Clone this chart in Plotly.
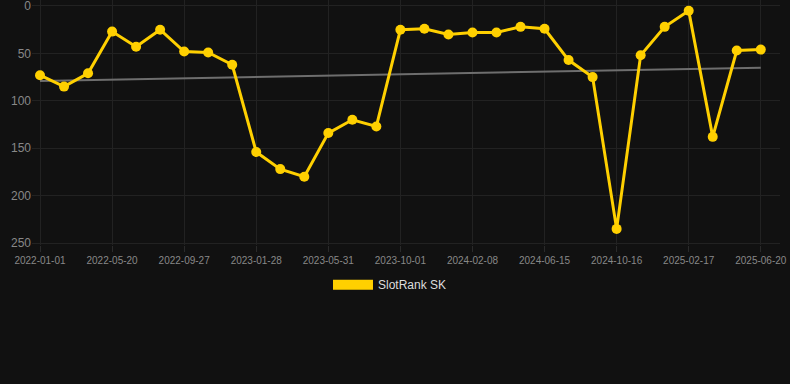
import plotly.graph_objects as go

dates = [
    "2022-01-01", "2022-02-16", "2022-04-03",
    "2022-05-20", "2022-07-02", "2022-08-15",
    "2022-09-27", "2022-11-07", "2022-12-18",
    "2023-01-28", "2023-03-10", "2023-04-20",
    "2023-05-31", "2023-07-11", "2023-08-21",
    "2023-10-01", "2023-11-13", "2023-12-26",
    "2024-02-08", "2024-03-20", "2024-05-02",
    "2024-06-15", "2024-07-26", "2024-09-05",
    "2024-10-16", "2024-11-26", "2025-01-07",
    "2025-02-17", "2025-03-31", "2025-05-10",
    "2025-06-20",
]
ranks = [73, 85, 71, 27, 43, 25, 48, 49, 62, 154, 172, 180, 134, 120, 127,
         25, 24, 30, 28, 28, 22, 24, 57, 75, 235, 52, 22, 5, 138, 47, 46]
tick_labels = dates[::3]
trend_start, trend_end = 79, 65

fig = go.Figure()
fig.add_trace(go.Scatter(
    x=[dates[0], dates[-1]], y=[trend_start, trend_end], mode="lines",
    line=dict(color="#6e6e6e", width=2), showlegend=False, hoverinfo="skip"))
fig.add_trace(go.Scatter(
    x=dates, y=ranks, mode="lines+markers", name="SlotRank SK",
    line=dict(color="#FFD000", width=3),
    marker=dict(color="#FFD000", size=10), showlegend=False))
fig.add_trace(go.Scatter(
    x=[None], y=[None], mode="lines", name="SlotRank SK",
    line=dict(color="#FFD000", width=12)))

fig.update_layout(
    width=790, height=384,
    margin=dict(l=32, r=10, t=0, b=139),
    paper_bgcolor="#111111", plot_bgcolor="#111111",
    font=dict(family="Liberation Sans, Arial, sans-serif", color="#888888"),
    showlegend=True,
    legend=dict(orientation="h", x=0.4786, xanchor="center", y=-0.103, yanchor="top",
                font=dict(size=12, color="#dddddd"), itemwidth=40),
    xaxis=dict(type="category", categoryorder="array", categoryarray=dates,
               range=[-0.333, 30.8], tickvals=tick_labels, ticktext=tick_labels,
               showgrid=True, gridcolor="#222222", gridwidth=1,
               ticks="outside", ticklen=6, tickcolor="#2a2a2a",
               tickfont=dict(size=10, color="#888888"), zeroline=False,
               showline=False),
    yaxis=dict(range=[252, -6.3], tickvals=[0, 50, 100, 150, 200, 250],
               showgrid=True, gridcolor="#222222", gridwidth=1, zeroline=False,
               tickfont=dict(size=12, color="#888888"), ticks="", showline=False,
               ticklabeloverflow="allow"),
)
fig.write_html("out.html")
